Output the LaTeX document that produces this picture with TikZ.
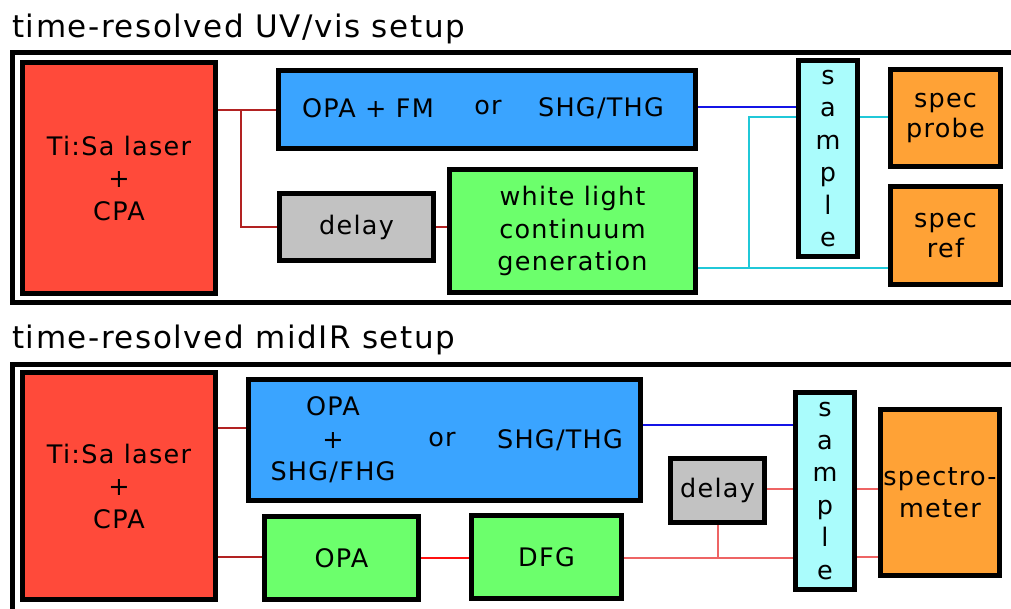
\documentclass[tikz,border=0pt]{standalone}
\usepackage{fontspec}
\setmainfont{DejaVu Sans}[LetterSpace=5]
\definecolor{laserred}{HTML}{FF4A3A}
\definecolor{boxblue}{HTML}{3AA4FF}
\definecolor{boxgreen}{HTML}{6CFF6C}
\definecolor{boxgray}{HTML}{C2C2C2}
\definecolor{boxcyan}{HTML}{AAFCFC}
\definecolor{boxorange}{HTML}{FFA236}
\definecolor{darkredline}{HTML}{B22222}
\definecolor{lightredline}{HTML}{EE6464}
\definecolor{redline}{HTML}{FF1010}
\definecolor{blueline}{HTML}{1414E6}
\definecolor{rbo}{HTML}{FFB040}
\definecolor{rbg}{HTML}{60E060}
\definecolor{rbc}{HTML}{20C8D8}
\tikzset{
  box/.style={draw=black, line width=5pt, inner sep=0pt, align=center,
    font=\fontsize{25.5}{32.5}\selectfont},
  frame/.style={draw=black, line width=5pt},
  title/.style={anchor=base west, inner sep=0pt, font=\fontsize{31}{36}\selectfont},
  lbl/.style={inner sep=0pt, align=center, font=\fontsize{25.5}{32.5}\selectfont},
  conn/.style={line width=2pt},
  rb/.style={line width=1.2pt}
}
\begin{document}
\begin{tikzpicture}[x=1pt,y=-1pt]
\clip (0,0) rectangle (1011,608);
\fill[white] (0,0) rectangle (1011,608);
% titles and frames
\node[title] (t1) at (12,37) {time-resolved UV/vis setup};
\node[title] (t2) at (12,348) {time-resolved midIR setup};
\draw[frame] (12.5,52.5) rectangle (1030,302.5);
\draw[frame] (12.5,364.5) rectangle (1030,640);
% ---------- top setup ----------
\node[box, fill=laserred, minimum width=193pt, minimum height=231pt] (ti1) at (119,178) {Ti:Sa laser\\+\\CPA};
\node[box, fill=boxblue, minimum width=417pt, minimum height=78pt] (blue1) at (487,109.5) {};
\node[lbl] (b1a) at (368,108) {OPA + FM};
\node[lbl] (b1b) at (488,108) {or};
\node[lbl] (b1c) at (601,108) {SHG/THG};
\node[box, fill=boxgray, minimum width=154pt, minimum height=67pt] (delay1) at (356.5,227) {delay};
\node[box, fill=boxgreen, minimum width=246pt, minimum height=123pt] (wlc) at (572.5,231) {white light\\continuum\\generation};
\node[box, fill=boxcyan, minimum width=59pt, minimum height=196pt] (sample1) at (828,158.5) {s\\a\\m\\p\\l\\e};
\node[box, fill=boxorange, minimum width=110pt, minimum height=97pt, font=\fontsize{25.5}{30}\selectfont] (probe) at (945.5,118) {spec\\probe};
\node[box, fill=boxorange, minimum width=110pt, minimum height=98pt, font=\fontsize{25.5}{30}\selectfont] (ref) at (945.5,235.5) {spec\\ref};
\coordinate (ya) at (0,268);
\coordinate (yb) at (0,117);
\coordinate (j1) at (241,109.5);
\coordinate (j2) at (749,268);
\draw[conn, darkredline] (ti1.east |- blue1.west) -- (blue1.west);
\draw[conn, darkredline] (j1) |- (delay1.west);
\draw[conn, darkredline] (delay1.east) -- (delay1.east -| wlc.west);
\draw[conn, blueline] (blue1.east |- 0,107) -- (sample1.west |- 0,107);
\foreach \c/\s in {rbo/-1.2, rbg/0, rbc/1.2}{
  \begin{scope}[shift={(\s,\s)}]
    \draw[rb, \c] (wlc.east |- ya) -- (ref.west |- ya);
    \draw[rb, \c] (j2) |- (sample1.west |- yb);
    \draw[rb, \c] (sample1.east |- yb) -- (probe.west |- yb);
  \end{scope}
}
% ---------- bottom setup ----------
\node[box, fill=laserred, minimum width=193pt, minimum height=227pt] (ti2) at (119,486) {Ti:Sa laser\\+\\CPA};
\node[box, fill=boxblue, minimum width=392pt, minimum height=121pt] (blue2) at (444.5,440) {};
\node[lbl] (b2a) at (333,440) {OPA\\+\\SHG/FHG};
\node[lbl] (b2b) at (442,440) {or};
\node[lbl] (b2c) at (560,440) {SHG/THG};
\node[box, fill=boxgreen, minimum width=154pt, minimum height=83pt] (opa) at (341.5,558) {OPA};
\node[box, fill=boxgreen, minimum width=150pt, minimum height=83pt] (dfg) at (546.5,557) {DFG};
\node[box, fill=boxgray, minimum width=94pt, minimum height=64pt] (delay2) at (717.5,490.5) {delay};
\node[box, fill=boxcyan, minimum width=59pt, minimum height=197pt] (sample2) at (825,491) {s\\a\\m\\p\\l\\e};
\node[box, fill=boxorange, minimum width=119pt, minimum height=166pt] (spectro) at (940,492.5) {spectro-\\meter};
\coordinate (yc) at (0,428);
\coordinate (yd) at (0,557);
\coordinate (ye) at (0,558);
\coordinate (yf) at (0,489);
\coordinate (yg) at (0,425);
\draw[conn, darkredline] (ti2.east |- yc) -- (blue2.west |- yc);
\draw[conn, darkredline] (ti2.east |- yd) -- (opa.west |- yd);
\draw[conn, redline] (opa.east |- ye) -- (dfg.west |- ye);
\draw[conn, lightredline] (dfg.east |- ye) -- (sample2.west |- ye);
\draw[conn, lightredline] (delay2.south |- ye) -- (delay2.south);
\draw[conn, lightredline] (delay2.east |- yf) -- (sample2.west |- yf);
\draw[conn, blueline] (blue2.east |- yg) -- (sample2.west |- yg);
\draw[conn, lightredline] (sample2.east |- yf) -- (spectro.west |- yf);
\draw[conn, lightredline] (sample2.east |- yd) -- (spectro.west |- yd);
\end{tikzpicture}
\end{document}
